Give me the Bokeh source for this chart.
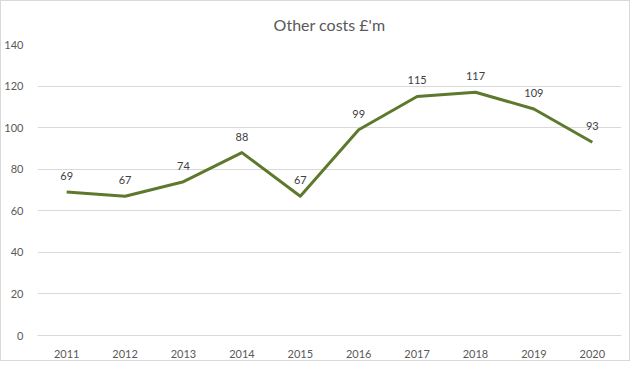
from bokeh.plotting import figure
from bokeh.models import ColumnDataSource, FactorRange, Range1d, FixedTicker
from bokeh.embed import file_html
from bokeh.resources import INLINE
from bokeh.core.properties import value

years = ["2011", "2012", "2013", "2014", "2015", "2016", "2017", "2018", "2019", "2020"]
costs = [69, 67, 74, 88, 67, 99, 115, 117, 109, 93]
labels = [str(v) for v in costs]
y_ticks = [0, 20, 40, 60, 80, 100, 120, 140]

FONT = "Lato"
src = ColumnDataSource(data=dict(x=years, y=costs, lab=labels))

p = figure(x_range=FactorRange(*years, range_padding=0), y_range=Range1d(0, 140),
           frame_width=584, frame_height=291,
           min_border_left=33, min_border_right=8, min_border_top=41, min_border_bottom=24,
           output_backend="svg", toolbar_location=None,
           title="Other costs £'m")
p.styles = {"border": "1px solid #d9d9d9", "box-sizing": "border-box"}
p.outline_line_color = None
p.background_fill_color = "white"
p.border_fill_color = "white"

p.title.align = "center"
p.title.text_font = FONT
p.title.text_font_size = "16px"
p.title.text_font_style = "normal"
p.title.text_color = "#595959"
p.title.standoff = 22

p.line("x", "y", source=src, line_color="#5e792d", line_width=3, line_join="round")
p.text("x", "y", text="lab", source=src, text_align="center", text_baseline="middle",
       y_offset=-16, text_font=value(FONT), text_font_size="11px", text_color="#404040")

p.yaxis.ticker = FixedTicker(ticks=y_ticks)
p.yaxis.axis_line_color = None
p.yaxis.major_tick_line_color = None
p.yaxis.minor_tick_line_color = None
p.yaxis.major_label_text_font = FONT
p.yaxis.major_label_text_font_size = "11px"
p.yaxis.major_label_text_color = "#595959"
p.yaxis.major_label_standoff = 8

p.xaxis.axis_line_color = "#d9d9d9"
p.xaxis.major_tick_line_color = None
p.xaxis.minor_tick_line_color = None
p.xaxis.major_label_text_font = FONT
p.xaxis.major_label_text_font_size = "11px"
p.xaxis.major_label_text_color = "#595959"
p.xaxis.major_label_standoff = 8

p.xgrid.grid_line_color = None
p.ygrid.grid_line_color = "#d9d9d9"
p.ygrid.grid_line_width = 1

open("out.html", "w").write(file_html(p, INLINE))
